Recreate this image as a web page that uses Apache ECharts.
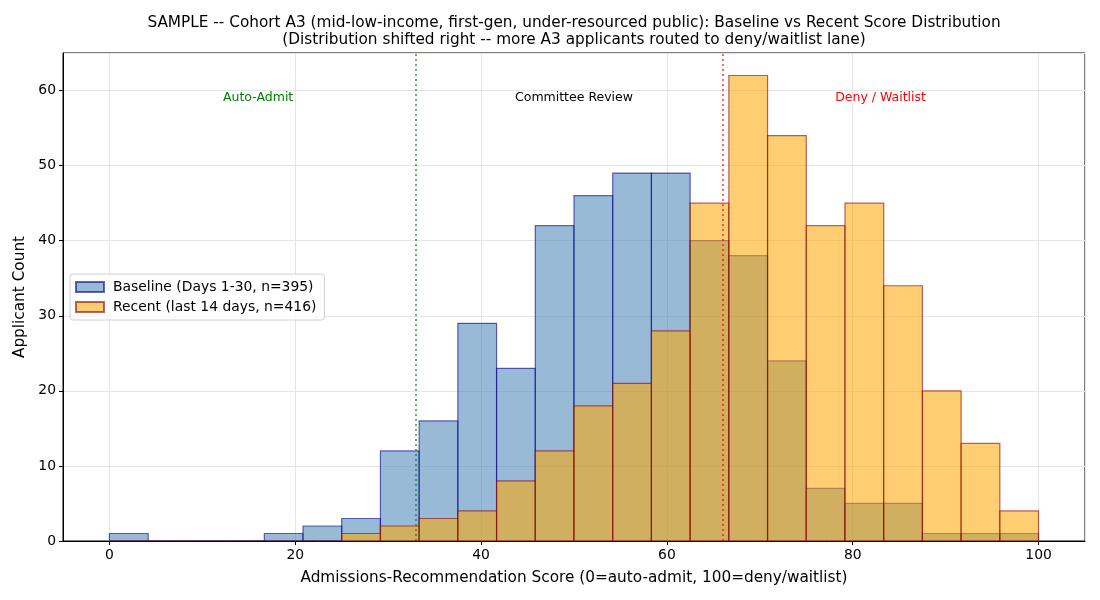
<!DOCTYPE html>
<html>
<head>
<meta charset="utf-8">
<script src="https://cdn.jsdelivr.net/npm/echarts@6/dist/echarts.min.js"></script>
<style>
  html, body { margin: 0; padding: 0; background: #fff; }
  #main { width: 1100px; height: 600px; }
</style>
</head>
<body>
<div id="main"></div>
<script>
// 24 bins from 0 to 100
var binCount = 24
var baselineCounts = [1, 0, 0, 0, 1, 2, 3, 12, 16, 29, 23, 42, 46, 49, 49, 40, 38, 24, 7, 5, 5, 1, 1, 1]
var recentCounts = [0, 0, 0, 0, 0, 0, 1, 2, 3, 4, 8, 12, 18, 21, 28, 45, 62, 54, 42, 45, 34, 20, 13, 4]
var thresholds = [33, 66]
var zoneLabels = ['Auto-Admit', 'Committee Review', 'Deny / Waitlist']
var zoneLabelX = [16, 50, 83]
var zoneLabelY = 59
var zoneColors = ['green', '#000', 'red']

var binWidth = 100 / binCount

function toBins(counts) {
  var out = []
  for (let i = 0; i < counts.length; i++) {
    out.push([i * binWidth, (i + 1) * binWidth, counts[i]])
  }
  return out
}

function barRenderer(fill, stroke) {
  return function (params, api) {
    var p0 = api.coord([api.value(0), 0])
    var p1 = api.coord([api.value(1), api.value(2)])
    return {
      type: 'rect',
      shape: { x: p0[0], y: p1[1], width: p1[0] - p0[0], height: p0[1] - p1[1] },
      style: { fill: fill, stroke: stroke, lineWidth: 1.2 }
    }
  }
}

var blueFill = 'rgba(70,130,180,0.55)'
var blueEdge = 'rgba(0,0,139,0.6)'
var orangeFill = 'rgba(255,165,0,0.55)'
var orangeEdge = 'rgba(139,0,0,0.6)'

var chart = echarts.init(document.getElementById('main'))

var option = {
  animation: false,
  textStyle: { fontFamily: 'DejaVu Sans' },
  title: {
    text: 'SAMPLE -- Cohort A3 (mid-low-income, first-gen, under-resourced public): Baseline vs Recent Score Distribution\n(Distribution shifted right -- more A3 applicants routed to deny/waitlist lane)',
    left: 569,
    textAlign: 'center',
    top: 10,
    textStyle: { fontSize: 15.3, fontWeight: 'normal', color: '#000', lineHeight: 17, fontFamily: 'DejaVu Sans' }
  },
  legend: {
    orient: 'vertical',
    left: 70,
    top: 274,
    data: ['Baseline (Days 1-30, n=395)', 'Recent (last 14 days, n=416)'],
    icon: 'rect',
    itemWidth: 28,
    itemHeight: 10,
    itemGap: 6,
    padding: [6, 8, 6, 5],
    backgroundColor: 'rgba(255,255,255,0.8)',
    borderColor: '#d0d0d0',
    borderWidth: 1,
    borderRadius: 3,
    textStyle: { fontSize: 13.9, color: '#000', fontFamily: 'DejaVu Sans', padding: [0, 0, 0, 4] }
  },
  grid: {
    left: 63, right: 15, top: 53, bottom: 59,
    show: true, borderColor: '#000', borderWidth: 1
  },
  xAxis: {
    type: 'value',
    min: -5,
    max: 105,
    splitNumber: 5,
    name: 'Admissions-Recommendation Score (0=auto-admit, 100=deny/waitlist)',
    nameLocation: 'middle',
    nameGap: 30,
    nameTextStyle: { fontSize: 15.3, color: '#000' },
    axisLine: { onZero: false, lineStyle: { color: '#000' } },
    axisTick: { length: 4, lineStyle: { color: '#000' } },
    axisLabel: { fontSize: 13.9, color: '#000', margin: 7, showMinLabel: false, showMaxLabel: false },
    splitLine: { show: true, lineStyle: { color: '#e5e5e5' } }
  },
  yAxis: {
    type: 'value',
    min: 0,
    max: 65,
    interval: 10,
    name: 'Applicant Count',
    nameLocation: 'middle',
    nameGap: 31,
    nameTextStyle: { fontSize: 15.3, color: '#000' },
    axisLine: { show: true, onZero: false, lineStyle: { color: '#000' } },
    axisTick: { show: true, length: 4, lineStyle: { color: '#000' } },
    axisLabel: { fontSize: 13.9, color: '#000', margin: 7, showMaxLabel: false },
    splitLine: { show: true, lineStyle: { color: '#e5e5e5' } }
  },
  series: [
    {
      name: 'Baseline (Days 1-30, n=395)',
      type: 'custom',
      renderItem: barRenderer(blueFill, blueEdge),
      encode: { x: [0, 1], y: 2 },
      itemStyle: { color: blueFill, borderColor: blueEdge, borderWidth: 1.2 },
      data: toBins(baselineCounts),
      z: 2
    },
    {
      name: 'Recent (last 14 days, n=416)',
      type: 'custom',
      renderItem: barRenderer(orangeFill, orangeEdge),
      encode: { x: [0, 1], y: 2 },
      itemStyle: { color: orangeFill, borderColor: orangeEdge, borderWidth: 1.2 },
      data: toBins(recentCounts),
      z: 3,
      markLine: {
        silent: true,
        symbol: 'none',
        label: { show: false },
        data: [
          { xAxis: thresholds[0], lineStyle: { color: 'green', type: [2, 3], width: 1.5, opacity: 0.8 } },
          { xAxis: thresholds[1], lineStyle: { color: 'red', type: [2, 3], width: 1.5, opacity: 0.8 } }
        ]
      }
    },
    {
      name: 'zones',
      type: 'custom',
      data: zoneLabels.map(function (t, i) { return [zoneLabelX[i], zoneLabelY, i] }),
      encode: { x: 0, y: 1 },
      z: 5,
      renderItem: function (params, api) {
        var p = api.coord([api.value(0), api.value(1)])
        var idx = api.value(2)
        return {
          type: 'text',
          x: p[0],
          y: p[1],
          style: {
            text: zoneLabels[idx],
            fill: zoneColors[idx],
            fontSize: 12.5,
            fontFamily: 'DejaVu Sans',
            align: 'center',
            verticalAlign: 'middle'
          }
        }
      }
    }
  ]
}

chart.setOption(option)
</script>
</body>
</html>
